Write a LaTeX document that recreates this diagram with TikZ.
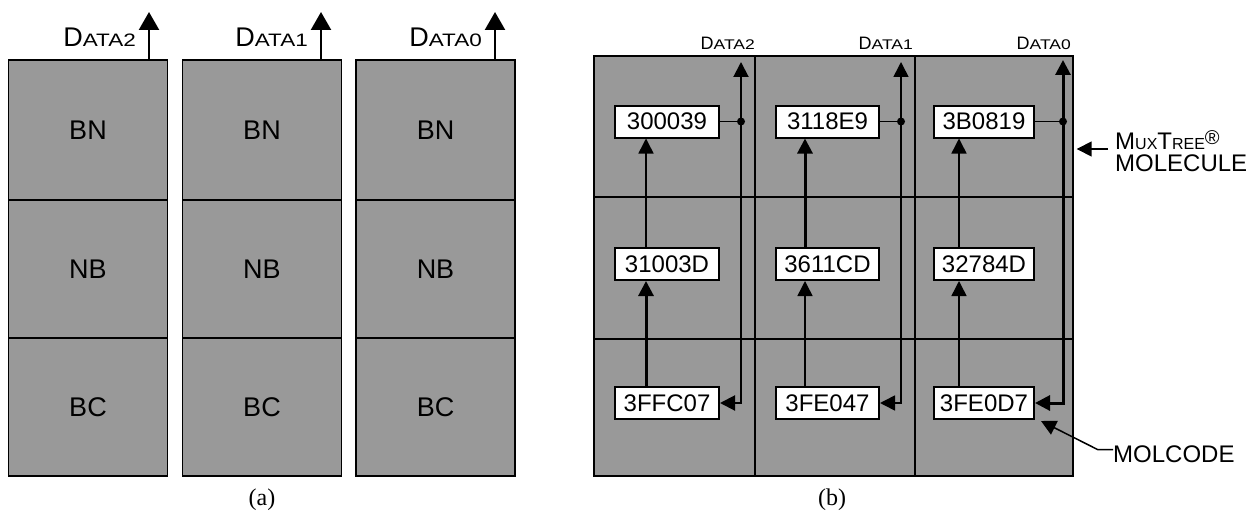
\documentclass[tikz,border=0pt]{standalone}
\usepackage{fontspec}
\usepackage{graphicx}
\setmainfont{Liberation Sans}
\newfontfamily\capfont{Liberation Serif}
\usetikzlibrary{arrows.meta}
\definecolor{cellgray}{gray}{0.6}
% sized text and wide fake small capitals for the signal names
\newcommand\bigsc[2]{{\fontsize{#1}{#1}\selectfont #2}}
\newcommand\widesc[2]{\scalebox{1.25}[1]{\fontsize{#1}{#1}\selectfont #2}}
\begin{document}
\begin{tikzpicture}[x=1pt,y=-1pt,
  acell/.style={draw, fill=cellgray, line width=1.8pt, inner sep=0pt,
    minimum width=159pt, font=\fontsize{27}{30}\selectfont},
  bcell/.style={draw, fill=cellgray, line width=1.4pt, inner sep=0pt},
  codebox/.style={draw, fill=white, line width=2pt, inner sep=0pt,
    minimum height=32pt, font=\fontsize{24}{28}\selectfont},
  txt/.style={inner sep=0pt},
  aarr/.style={line width=2.4pt, -{Triangle[length=18pt,width=20pt]}},
  barr/.style={line width=#1, -{Triangle[length=15pt,width=15pt]}},
  barr/.default=1.5pt,
  darr/.style={line width=#1, {Triangle[length=15pt,width=15pt]}-{Triangle[length=15pt,width=15pt]}},
]
\useasboundingbox (0,0) rectangle (1248,519);

% ---------------- (a) three separate columns ----------------
\foreach \c/\x in {1/88, 2/262, 3/435.5} {
  \node[acell, minimum height=140pt] (a\c r1) at (\x,130) {BN};
  \node[acell, minimum height=138pt] (a\c r2) at (\x,269) {NB};
  \node[acell, minimum height=138pt] (a\c r3) at (\x,407) {BC};
}
\coordinate (ta2) at (149,12);
\coordinate (ta1) at (321,12);
\coordinate (ta0) at (495,12);
\draw[aarr] (a1r1.north -| ta2) -- (ta2);
\draw[aarr] (a2r1.north -| ta1) -- (ta1);
\draw[aarr] (a3r1.north -| ta0) -- (ta0);
\node[txt, anchor=base east] (la2) at (136,47) {\bigsc{27}{D}\widesc{18}{ATA2}};
\node[txt, anchor=base east] (la1) at (308,47) {\bigsc{27}{D}\widesc{18}{ATA1}};
\node[txt, anchor=base east] (la0) at (482,47) {\bigsc{27}{D}\widesc{18}{ATA0}};
\node[txt, font=\capfont\fontsize{24}{28}\selectfont] (capa) at (262,500) {(a)};

% ---------------- (b) the molecule array ----------------
\foreach \c/\x/\w in {1/674.5/161, 2/835/160, 3/994/158} {
  \node[bcell, minimum width=\w pt, minimum height=141pt] (g\c r1) at (\x,126.5) {};
  \node[bcell, minimum width=\w pt, minimum height=142pt] (g\c r2) at (\x,268) {};
  \node[bcell, minimum width=\w pt, minimum height=137pt] (g\c r3) at (\x,407.5) {};
}
% molecule codes
\node[codebox, minimum width=104pt] (b11) at (667,121.5) {300039};
\node[codebox, minimum width=104pt] (b12) at (667,264) {31003D};
\node[codebox, minimum width=104pt] (b13) at (667,403) {3FFC07};
\node[codebox, minimum width=103pt] (b21) at (827.5,121.5) {3118E9};
\node[codebox, minimum width=103pt] (b22) at (827.5,264) {3611CD};
\node[codebox, minimum width=103pt] (b23) at (827.5,403) {3FE047};
\node[codebox, minimum width=100pt] (b31) at (984,121.5) {3B0819};
\node[codebox, minimum width=100pt] (b32) at (984,264) {32784D};
\node[codebox, minimum width=100pt] (b33) at (984,403) {3FE0D7};

% upward chains inside each column
\draw[barr=1.5pt] ([xshift=-21pt]b12.north) -- ([xshift=-21pt]b11.south);
\draw[barr=3pt]   ([xshift=-21pt]b13.north) -- ([xshift=-21pt]b12.south);
\draw[barr=3pt]   ([xshift=-22.5pt]b22.north) -- ([xshift=-22.5pt]b21.south);
\draw[barr=1.5pt] ([xshift=-22.5pt]b23.north) -- ([xshift=-22.5pt]b22.south);
\draw[barr=1.5pt] ([xshift=-25pt]b32.north) -- ([xshift=-25pt]b31.south);
\draw[barr=1.5pt] ([xshift=-25pt]b33.north) -- ([xshift=-25pt]b32.south);

% output lines
\coordinate (tb2) at (741,62);
\coordinate (tb1) at (901,62);
\coordinate (tb0) at (1063,60);
\draw[darr=2pt]   (b13.east) -- (b13.east -| tb2) -- (tb2);
\draw[darr=1.6pt] (b23.east) -- (b23.east -| tb1) -- (tb1);
\draw[darr=3pt]   (b33.east) -- (b33.east -| tb0) -- (tb0);
\draw[line width=1.5pt] (b11.east) -- (b11.east -| tb2);
\draw[line width=1.5pt] (b21.east) -- (b21.east -| tb1);
\draw[line width=1.5pt] (b31.east) -- (b31.east -| tb0);
\fill (b11.east -| tb2) circle (4pt);
\fill (b21.east -| tb1) circle (4pt);
\fill (b31.east -| tb0) circle (4pt);

\node[txt, anchor=base east] (lb2) at (755,50) {\bigsc{18}{D}\widesc{14}{ATA2}};
\node[txt, anchor=base east] (lb1) at (913,50) {\bigsc{18}{D}\widesc{14}{ATA1}};
\node[txt, anchor=base east] (lb0) at (1071,50) {\bigsc{18}{D}\widesc{14}{ATA0}};

% annotations
\node[txt, anchor=base west] (mux1) at (1115,149)
  {\bigsc{24}{M}\bigsc{16}{UX}\bigsc{24}{T}\bigsc{16}{REE}\raisebox{5pt}{\bigsc{20}{®}}};
\node[txt, anchor=base west, font=\fontsize{24}{28}\selectfont] (mux2) at (1115,171) {MOLECULE};
\coordinate (muxs) at (1108,149);
\draw[barr=1.5pt] (muxs) -- ([xshift=3pt]g3r1.east |- muxs);

\node[txt, anchor=base west, font=\fontsize{24}{28}\selectfont] (molc) at (1113,462) {MOLCODE};
\draw[barr=1.5pt] ([yshift=4pt]molc.west) -- ++(-15,0) -- ([shift={(6pt,-1pt)}]b33.south east);

\node[txt, font=\capfont\fontsize{24}{28}\selectfont] (capb) at (832,500) {(b)};
\end{tikzpicture}
\end{document}
